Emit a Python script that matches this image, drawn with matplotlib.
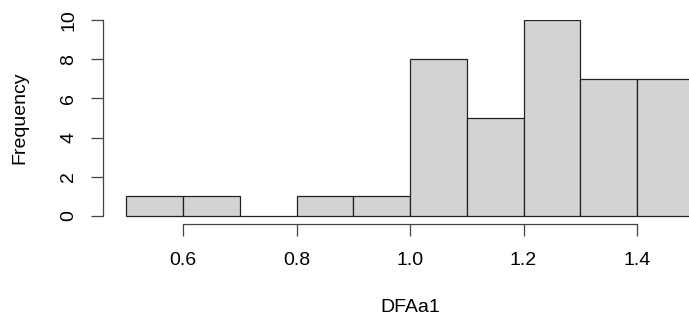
import numpy as np
import matplotlib.pyplot as plt

plt.rcParams['font.family'] = ['Liberation Sans', 'DejaVu Sans']

# Histogramme DFAa1 (style R)
bords = np.array([0.5, 0.6, 0.7, 0.8, 0.9, 1.0, 1.1, 1.2, 1.3, 1.4, 1.5])
effectifs = np.array([1, 1, 0, 1, 1, 8, 5, 10, 7, 7])
xticks = [0.6, 0.8, 1.0, 1.2, 1.4]
yticks = [0, 2, 4, 6, 8, 10]

W, H = 689, 324
fig = plt.figure(figsize=(W / 100, H / 100), dpi=100)
ax = fig.add_axes([103 / W, (H - 224) / H, (689 - 103) / W, (224 - 20) / H])

ax.bar(bords[:-1], effectifs, width=np.diff(bords), align='edge',
       color='#d3d3d3', edgecolor='#222222', linewidth=0.9)

xlim = (0.459, 1.4916)
ylim = (-0.408, 10)
ax.set_xlim(*xlim)
ax.set_ylim(*ylim)

for s in ['top', 'right']:
    ax.spines[s].set_visible(False)
ax.spines['left'].set_bounds(0, 10)
ax.spines['bottom'].set_bounds(0.6, 1.4)
for s in ['left', 'bottom']:
    ax.spines[s].set_color('#444444')
    ax.spines[s].set_linewidth(0.9)

ax.set_xticks(xticks)
ax.set_xticklabels([f"{v:.1f}" for v in xticks])
ax.set_yticks(yticks)
ax.set_yticklabels([str(v) for v in yticks], rotation=90, va='center')
ax.tick_params(length=8.5, width=0.9, color='#444444', labelsize=14)
ax.tick_params(axis='x', pad=11.5)
ax.tick_params(axis='y', pad=10)

# titres des axes, centrés sur les axes dessinés
ax.set_xlabel('DFAa1', fontsize=14, va='center')
ax.set_ylabel('Frequency', fontsize=14, va='center', ha='center')
ax.xaxis.set_label_coords((1.0 - xlim[0]) / (xlim[1] - xlim[0]), (224 - 308) / 204)
ax.yaxis.set_label_coords((20 - 103) / 586, (5 - ylim[0]) / (ylim[1] - ylim[0]))

fig.savefig('out.png', dpi=100)
